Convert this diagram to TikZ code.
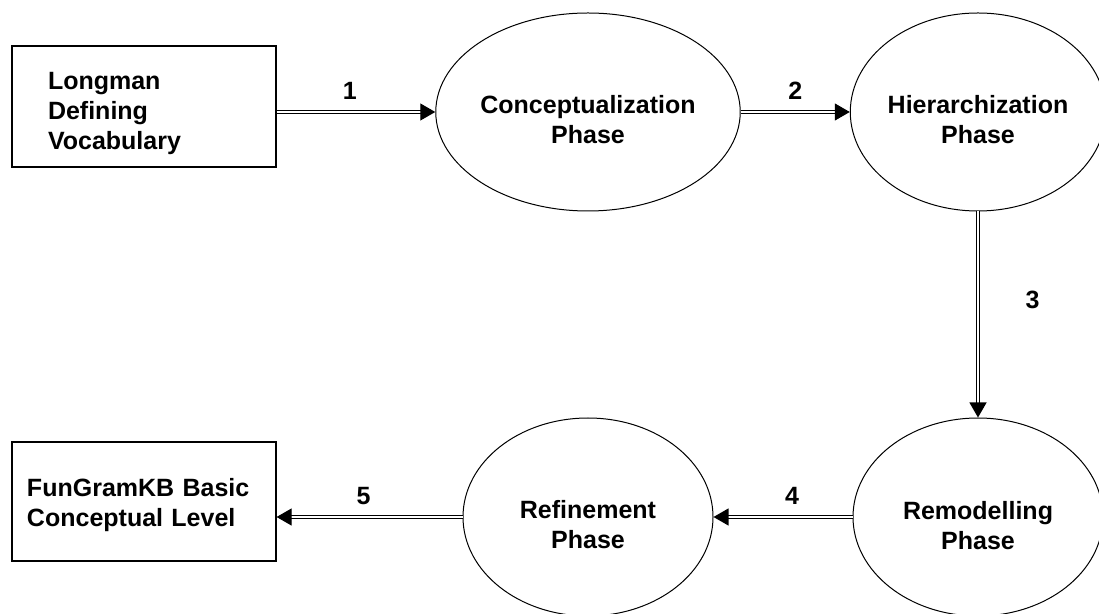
\documentclass[tikz,border=0pt]{standalone}
\usepackage{fontspec}
\setmainfont{Liberation Sans}
\usetikzlibrary{arrows.meta,shapes.geometric}
\newcommand{\toppad}[1]{\rule{0pt}{#1}}
\tikzset{
  bigfont/.style={font=\fontsize{25}{30}\selectfont\bfseries},
  srcbox/.style={draw, rectangle, line width=1.2pt, bigfont, align=left},
  phase/.style={draw, ellipse, line width=1pt, bigfont, align=center,
    minimum width=250pt, minimum height=198pt, inner sep=0pt},
  dblarr/.style={double, double distance=2pt, line width=1.1pt,
    -{Triangle[length=15pt,width=17pt]}},
  steplbl/.style={bigfont, inner sep=0pt},
}

\begin{document}
\begin{tikzpicture}[x=1pt,y=1pt]
\useasboundingbox (0,0) rectangle (1099,613);
\node[srcbox, text width=192pt, inner xsep=36pt, minimum height=121pt]
  (ldv) at (144,506.5) {\toppad{32pt}Longman\\Defining\\Vocabulary};
\node[srcbox, text width=234pt, inner xsep=15pt, minimum height=119pt]
  (fgk) at (144,111.5) {\toppad{26pt}FunGramKB Basic\\Conceptual Level};
\node[phase] (concept) at (588,501) {\toppad{34pt}Conceptualization\\Phase};
\node[phase] (hierarchy) at (978,501) {\toppad{34pt}Hierarchization\\Phase};
\node[phase] (remodel) at (978,96) {\toppad{36pt}Remodelling\\Phase};
\node[phase] (refine) at (588,96) {\toppad{34pt}Refinement\\Phase};
% phases in order
\draw[dblarr] (ldv.east |- concept.west) -- (concept.west)
  node[steplbl, midway, above=12pt, xshift=-6pt] (s1) {1};
\draw[dblarr] (concept) -- (hierarchy)
  node[steplbl, midway, above=12pt] (s2) {2};
\draw[dblarr] (hierarchy) -- (remodel)
  node[steplbl, pos=0.43, right=47pt] (s3) {3};
\draw[dblarr] (remodel) -- (refine)
  node[steplbl, midway, above=12pt, xshift=9pt] (s4) {4};
\draw[dblarr] (refine.west) -- (fgk.east |- refine.west)
  node[steplbl, midway, above=12pt, xshift=-6pt] (s5) {5};
\end{tikzpicture}
\end{document}
